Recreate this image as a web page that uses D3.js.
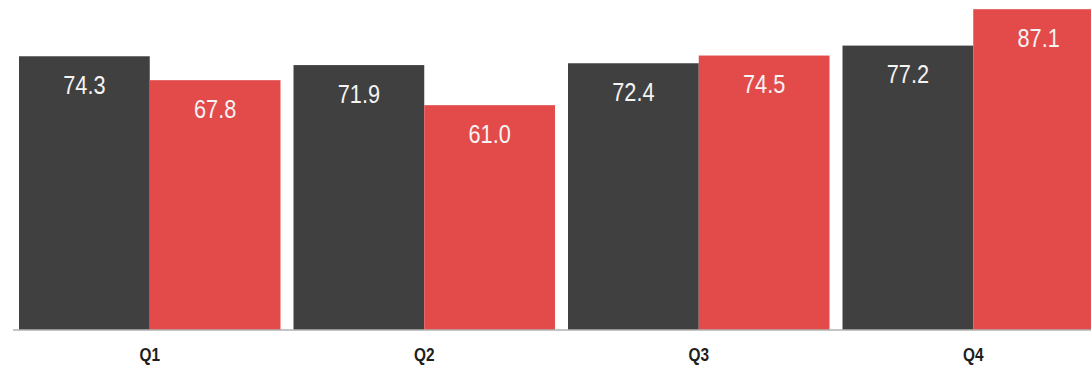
<!DOCTYPE html>
<html>
<head>
<meta charset="utf-8">
<script src="https://cdn.jsdelivr.net/npm/d3@7/dist/d3.min.js"></script>
<style>
  html, body { margin: 0; padding: 0; background: #fff; }
  svg { display: block; }
</style>
</head>
<body>
<svg id="chart" width="1091" height="365"></svg>
<script>
// Quarterly values for two series
const categories = ["Q1", "Q2", "Q3", "Q4"];
const seriesNames = ["A", "B"];
const seriesA = [74.3, 71.9, 72.4, 77.2];
const seriesB = [67.8, 61.0, 74.5, 87.1];
const colors = ["#404040", "#e34b4b"];

const svg = d3.select("#chart");
const baseY = 329.5;
const fontFam = "'Liberation Sans', Arial, sans-serif";
const narrow = 0.82;    // horizontal condensing of the value labels
const catNarrow = 0.88; // horizontal condensing of the category labels

const x = d3.scaleBand()
  .domain(categories)
  .range([12.5, 1110.5])
  .paddingInner(0.0474)
  .paddingOuter(0.0237);

const xs = d3.scaleBand()
  .domain(seriesNames)
  .range([0, x.bandwidth()])
  .padding(0);

const y = d3.scaleLinear()
  .domain([0, 89.6])
  .range([baseY, 0]);

const rows = categories.map((c, i) => ({
  cat: c,
  vals: [
    { key: "A", v: seriesA[i] },
    { key: "B", v: seriesB[i] }
  ]
}));

const groups = svg.append("g").selectAll("g")
  .data(rows).enter().append("g")
  .attr("transform", d => `translate(${x(d.cat)},0)`);

groups.selectAll("rect")
  .data(d => d.vals).enter().append("rect")
  .attr("x", d => xs(d.key))
  .attr("width", xs.bandwidth())
  .attr("y", d => y(d.v))
  .attr("height", d => y(0) - y(d.v))
  .attr("fill", (d, i) => colors[i]);

groups.selectAll("text.val")
  .data(d => d.vals).enter().append("text")
  .attr("class", "val")
  .attr("text-anchor", "middle")
  .attr("transform", d => `translate(${xs(d.key) + xs.bandwidth() / 2},${y(d.v) + 37.5}) scale(${narrow},1)`)
  .style("font-family", fontFam)
  .style("font-size", "26.5px")
  .style("fill", "#f4f4f4")
  .text(d => d.v.toFixed(1));

// Category axis along the baseline
const axis = svg.append("g")
  .attr("transform", `translate(0,${baseY})`)
  .call(d3.axisBottom(x).tickSize(0).tickFormat(""));
axis.select(".domain").attr("stroke", "#8c8c8c").attr("stroke-width", 1.2);

svg.append("g").selectAll("text")
  .data(categories).enter().append("text")
  .attr("text-anchor", "middle")
  .attr("transform", d => `translate(${x(d) + x.bandwidth() / 2},${baseY + 31.2}) scale(${catNarrow},1)`)
  .style("font-family", fontFam)
  .style("font-size", "17.5px")
  .style("font-weight", "bold")
  .style("fill", "#1e1e1e")
  .text(d => d);
</script>
</body>
</html>
